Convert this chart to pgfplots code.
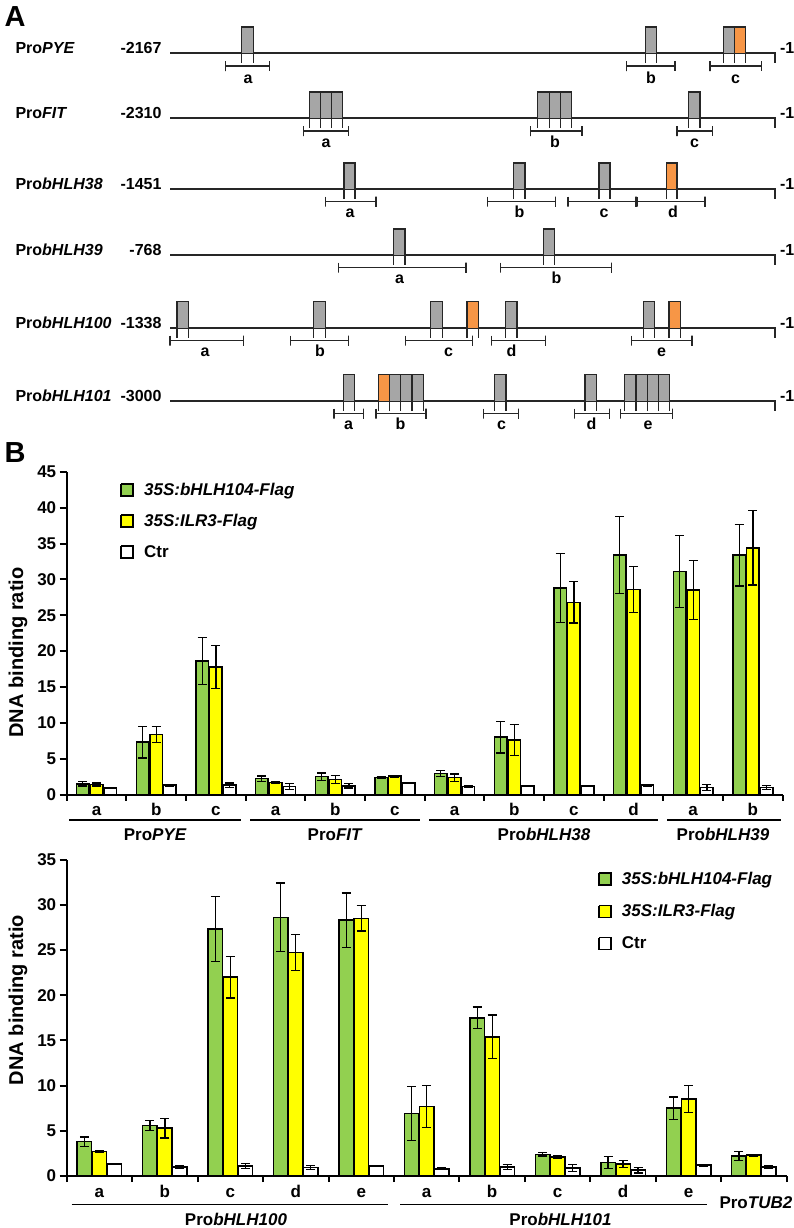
\documentclass[border=0pt]{standalone}
\usepackage{fontspec}
\setmainfont{Liberation Sans}
\usepackage{pgfplots}
\usepackage{pgfplotstable}
\pgfplotsset{compat=1.18}
\definecolor{bgreen}{RGB}{146,208,80}
\definecolor{byellow}{RGB}{255,255,0}
\definecolor{borange}{RGB}{247,150,70}
\definecolor{bgray}{RGB}{166,166,166}

\pgfplotstableread{
x g ge y ye w we
0 1.5 0.3 1.4 0.2 0.9 0.1
1 7.3 2.2 8.4 1.1 1.3 0.1
2 18.6 3.3 17.8 3.0 1.3 0.3
3 2.2 0.4 1.7 0.1 1.1 0.4
4 2.5 0.5 2.1 0.6 1.2 0.3
5 2.4 0.15 2.55 0.1 1.6 0.1
6 2.9 0.4 2.35 0.5 1.1 0.15
7 8.0 2.2 7.6 2.2 1.2 0.1
8 28.8 4.8 26.8 2.9 1.2 0.1
9 33.4 5.4 28.6 3.2 1.3 0.1
10 31.1 5.0 28.5 4.1 1.0 0.4
11 33.4 4.3 34.4 5.2 1.0 0.3
}\topdata

\pgfplotstableread{
x g ge y ye w we
0 3.8 0.5 2.7 0.1 1.35 0.05
1 5.6 0.55 5.3 1.1 1.0 0.1
2 27.3 3.6 22.0 2.3 1.1 0.3
3 28.6 3.8 24.7 2.0 0.95 0.2
4 28.3 3.0 28.5 1.4 1.1 0.05
5 6.9 3.0 7.7 2.3 0.8 0.1
6 17.5 1.2 15.4 2.4 1.0 0.3
7 2.4 0.2 2.1 0.1 0.9 0.4
8 1.5 0.65 1.35 0.4 0.65 0.3
9 7.5 1.25 8.5 1.5 1.2 0.1
10 2.2 0.5 2.3 0.1 1.0 0.2
}\botdata

% box: x1 x2 ytop yline ybottom colour
\newcommand{\bx}[6]{%
 \addplot[draw=none, fill=#6] coordinates {(#1,#3) (#2,#3) (#2,#4) (#1,#4)};
 \addplot[black!85, line width=1.1pt] coordinates {(#1,#5) (#1,#3) (#2,#3) (#2,#5)};
}
% bracket: x1 x2 y yup ydown
\newcommand{\br}[5]{%
 \addplot[black!85, line width=1.1pt] coordinates {(#1,#4) (#1,#5) (#1,#3) (#2,#3) (#2,#4) (#2,#5)};
}
\newcommand{\lab}[3]{\node[anchor=base, font=\bfseries\fontsize{16}{19}\selectfont] at (axis cs:#1,#2) {#3};}
\newcommand{\fs}{\bfseries\fontsize{17}{20}\selectfont}

\pgfplotsset{barax/.style={
 scale only axis, ybar, enlargelimits=false, clip=false,
 axis x line*=bottom, axis y line*=left,
 axis line style={-, line width=2pt},
 tick align=outside, major tick length=7pt, minor tick length=6pt,
 tick style={black, line width=2pt},
 major x tick style={draw=none},
 ymin=0,
 ticklabel style={font=\fs},
 /pgf/number format/assume math mode=true,
 xticklabel style={anchor=base, yshift=-14pt},
 error bars/error bar style={line width=1.3pt, black},
 error bars/error mark options={rotate=90, mark size=4.5pt, line width=1.3pt, black},
}}

\begin{document}
\begin{tikzpicture}
\useasboundingbox (0,0) rectangle (793pt,-1228pt);
% ---------- overlay axis in pixel coordinates ----------
\begin{axis}[at={(0pt,0pt)}, anchor=north west, scale only axis,
 width=793pt, height=1228pt, xmin=0, xmax=793, ymin=0, ymax=1228,
 y dir=reverse, hide axis, clip=false]
% panel letters
\node[anchor=base west, font=\bfseries\fontsize{29}{32}\selectfont] at (axis cs:1,26.5) {A};
\node[anchor=base west, font=\bfseries\fontsize{29}{32}\selectfont] at (axis cs:1,462) {B};
% row lines
\addplot[black!85, line width=1.2pt] coordinates {(170,53) (775,53) (775,63)};
\addplot[black!85, line width=1.2pt] coordinates {(170,118) (775,118) (775,128)};
\addplot[black!85, line width=1.2pt] coordinates {(170,189) (775,189) (775,199)};
\addplot[black!85, line width=1.2pt] coordinates {(170,255) (775,255) (775,265)};
\addplot[black!85, line width=1.2pt] coordinates {(170,328) (775,328) (775,338)};
\addplot[black!85, line width=1.2pt] coordinates {(170,401) (775,401) (775,411)};
% row labels
\node[anchor=base west, font=\bfseries\fontsize{16}{19}\selectfont] at (axis cs:12,53) {Pro\textit{PYE}};
\node[anchor=base west, font=\bfseries\fontsize{16}{19}\selectfont] at (axis cs:12,118) {Pro\textit{FIT}};
\node[anchor=base west, font=\bfseries\fontsize{16}{19}\selectfont] at (axis cs:12,189) {Pro\textit{bHLH38}};
\node[anchor=base west, font=\bfseries\fontsize{16}{19}\selectfont] at (axis cs:12,255) {Pro\textit{bHLH39}};
\node[anchor=base west, font=\bfseries\fontsize{16}{19}\selectfont] at (axis cs:12,328) {Pro\textit{bHLH100}};
\node[anchor=base west, font=\bfseries\fontsize{16}{19}\selectfont] at (axis cs:12,401) {Pro\textit{bHLH101}};
\node[anchor=base east, font=\bfseries\fontsize{16}{19}\selectfont] at (axis cs:165,53) {-2167};
\node[anchor=base east, font=\bfseries\fontsize{16}{19}\selectfont] at (axis cs:165,118) {-2310};
\node[anchor=base east, font=\bfseries\fontsize{16}{19}\selectfont] at (axis cs:165,189) {-1451};
\node[anchor=base east, font=\bfseries\fontsize{16}{19}\selectfont] at (axis cs:165,255) {-768};
\node[anchor=base east, font=\bfseries\fontsize{16}{19}\selectfont] at (axis cs:165,328) {-1338};
\node[anchor=base east, font=\bfseries\fontsize{16}{19}\selectfont] at (axis cs:165,401) {-3000};
\node[anchor=base west, font=\bfseries\fontsize{16}{19}\selectfont] at (axis cs:776.5,53) {-1};
\node[anchor=base west, font=\bfseries\fontsize{16}{19}\selectfont] at (axis cs:776.5,118) {-1};
\node[anchor=base west, font=\bfseries\fontsize{16}{19}\selectfont] at (axis cs:776.5,189) {-1};
\node[anchor=base west, font=\bfseries\fontsize{16}{19}\selectfont] at (axis cs:776.5,255) {-1};
\node[anchor=base west, font=\bfseries\fontsize{16}{19}\selectfont] at (axis cs:776.5,328) {-1};
\node[anchor=base west, font=\bfseries\fontsize{16}{19}\selectfont] at (axis cs:776.5,401) {-1};
% row 1 PYE
\bx{241.7}{253.3}{27}{53}{63}{bgray}
\bx{645.7}{656.3}{27}{53}{63}{bgray}
\bx{723.7}{734.3}{27}{53}{63}{bgray}
\bx{734.3}{745.7}{27}{53}{63}{borange}
\br{225.3}{269.3}{66}{61}{71} \lab{248}{83}{a}
\br{626.7}{675}{66}{61}{71} \lab{651}{83}{b}
\br{710}{761.7}{66}{61}{71} \lab{735.5}{83}{c}
% row 2 FIT
\bx{309.3}{320.7}{92}{118}{128}{bgray}
\bx{320.7}{331.7}{92}{118}{128}{bgray}
\bx{331.7}{342.7}{92}{118}{128}{bgray}
\bx{537.7}{549.3}{92}{118}{128}{bgray}
\bx{549.3}{560.3}{92}{118}{128}{bgray}
\bx{560.3}{571.7}{92}{118}{128}{bgray}
\bx{688.3}{700}{92}{118}{128}{bgray}
\br{303.3}{348.3}{131}{126}{136} \lab{326}{147}{a}
\br{530.7}{582}{131}{126}{136} \lab{555}{147}{b}
\br{677}{712.3}{131}{126}{136} \lab{694.5}{147}{c}
% row 3 bHLH38
\bx{344}{355}{163}{189}{199}{bgray}
\bx{513.7}{525}{163}{189}{199}{bgray}
\bx{599}{610}{163}{189}{199}{bgray}
\bx{666.3}{677}{163}{189}{199}{borange}
\br{325.7}{376}{201.5}{196.5}{206.5} \lab{350}{217.5}{a}
\br{487.3}{555.3}{201.5}{196.5}{206.5} \lab{519.5}{217.5}{b}
\br{568}{636}{201.5}{196.5}{206.5} \lab{604}{217.5}{c}
\br{637.7}{705}{201.5}{196.5}{206.5} \lab{673}{217.5}{d}
% row 4 bHLH39
\bx{393.3}{405}{229}{255}{265}{bgray}
\bx{543.3}{554.3}{229}{255}{265}{bgray}
\br{338.3}{466}{267.5}{262.5}{272.5} \lab{399.5}{283.5}{a}
\br{500.7}{611.7}{267.5}{262.5}{272.5} \lab{556.5}{283.5}{b}
% row 5 bHLH100
\bx{177}{188.7}{301.5}{328}{338}{bgray}
\bx{313.7}{325.3}{301.5}{328}{338}{bgray}
\bx{430.7}{442.3}{301.5}{328}{338}{bgray}
\bx{467}{478.3}{301.5}{328}{338}{borange}
\bx{505.7}{517}{301.5}{328}{338}{bgray}
\bx{643.3}{654.3}{301.5}{328}{338}{bgray}
\bx{669}{680.3}{301.5}{328}{338}{borange}
\br{170}{243.3}{340.5}{335.5}{345.5} \lab{205}{356}{a}
\br{290.7}{348.3}{340.5}{335.5}{345.5} \lab{320}{356}{b}
\br{405.7}{472.3}{340.5}{335.5}{345.5} \lab{448.5}{356}{c}
\br{491.7}{545.7}{340.5}{335.5}{345.5} \lab{511.5}{356}{d}
\br{631.7}{692}{340.5}{335.5}{345.5} \lab{661.5}{356}{e}
% row 6 bHLH101
\bx{343.3}{354.3}{374.5}{401}{411}{bgray}
\bx{378.3}{389.3}{374.5}{401}{411}{borange}
\bx{389.3}{400.7}{374.5}{401}{411}{bgray}
\bx{400.7}{412}{374.5}{401}{411}{bgray}
\bx{412}{423.3}{374.5}{401}{411}{bgray}
\bx{494.3}{506}{374.5}{401}{411}{bgray}
\bx{585}{596.7}{374.5}{401}{411}{bgray}
\bx{624.3}{636}{374.5}{401}{411}{bgray}
\bx{636}{647.3}{374.5}{401}{411}{bgray}
\bx{647.3}{658.3}{374.5}{401}{411}{bgray}
\bx{658.3}{669.3}{374.5}{401}{411}{bgray}
\br{334}{363.3}{413.5}{408.5}{418.5} \lab{348.5}{429.5}{a}
\br{376}{426}{413.5}{408.5}{418.5} \lab{400.5}{429.5}{b}
\br{483.3}{518.3}{413.5}{408.5}{418.5} \lab{501.5}{429.5}{c}
\br{574.3}{609.3}{413.5}{408.5}{418.5} \lab{591.5}{429.5}{d}
\br{620.7}{672.3}{413.5}{408.5}{418.5} \lab{648}{429.5}{e}
% ---------- panel B decorations ----------
% y labels
\node[rotate=90, font=\bfseries\fontsize{20}{24}\selectfont] at (axis cs:18,652.5) {DNA binding ratio};
\node[rotate=90, font=\bfseries\fontsize{20}{24}\selectfont] at (axis cs:18,1000) {DNA binding ratio};
% top group underlines and names
\addplot[black, line width=1.5pt] coordinates {(69,820) (241,820)};
\addplot[black, line width=1.5pt] coordinates {(250,820) (420,820)};
\addplot[black, line width=1.5pt] coordinates {(429,820) (658,820)};
\addplot[black, line width=1.5pt] coordinates {(667,820) (781,820)};
\node[anchor=base, font=\fs] at (axis cs:155.2,840.7) {Pro\textit{PYE}};
\node[anchor=base, font=\fs] at (axis cs:335.2,840.7) {Pro\textit{FIT}};
\node[anchor=base, font=\fs] at (axis cs:544,840.7) {Pro\textit{bHLH38}};
\node[anchor=base, font=\fs] at (axis cs:723,840.7) {Pro\textit{bHLH39}};
% bottom group underlines and names
\addplot[black, line width=1.5pt] coordinates {(71.7,1204.3) (388.3,1204.3)};
\addplot[black, line width=1.5pt] coordinates {(400,1204.3) (706.7,1204.3)};
\node[anchor=base, font=\fs] at (axis cs:236,1225) {Pro\textit{bHLH100}};
\node[anchor=base, font=\fs] at (axis cs:560.5,1225) {Pro\textit{bHLH101}};
\node[anchor=base west, font=\fs] at (axis cs:716,1208.3) {Pro\textit{TUB2}};
% top legend
\addplot[draw=black, line width=1.3pt, fill=bgreen] coordinates {(121,484) (133,484) (133,496) (121,496) (121,484)};
\addplot[draw=black, line width=1.3pt, fill=byellow] coordinates {(121,515) (133,515) (133,527) (121,527) (121,515)};
\addplot[draw=black, line width=1.3pt, fill=white] coordinates {(121,546) (133,546) (133,558) (121,558) (121,546)};
\node[anchor=base west, font=\fs\itshape, inner sep=0pt] at (axis cs:144,495.5) {35S:bHLH104-Flag};
\node[anchor=base west, font=\fs\itshape, inner sep=0pt] at (axis cs:144,526.5) {35S:ILR3-Flag};
\node[anchor=base west, font=\fs, inner sep=0pt] at (axis cs:144,557.5) {Ctr};
% bottom legend
\addplot[draw=black, line width=1.3pt, fill=bgreen] coordinates {(599,873) (611,873) (611,885) (599,885) (599,873)};
\addplot[draw=black, line width=1.3pt, fill=byellow] coordinates {(599,905.5) (611,905.5) (611,917.5) (599,917.5) (599,905.5)};
\addplot[draw=black, line width=1.3pt, fill=white] coordinates {(599,937.5) (611,937.5) (611,949.5) (599,949.5) (599,937.5)};
\node[anchor=base west, font=\fs\itshape, inner sep=0pt] at (axis cs:621.7,884.3) {35S:bHLH104-Flag};
\node[anchor=base west, font=\fs\itshape, inner sep=0pt] at (axis cs:621.7,916.5) {35S:ILR3-Flag};
\node[anchor=base west, font=\fs, inner sep=0pt] at (axis cs:621.7,948.5) {Ctr};
\end{axis}

% ---------- top bar chart ----------
\begin{axis}[barax, at={(66.7pt,-794.5pt)}, anchor=south west,
 width=716pt, height=322.65pt, xmin=-0.5, xmax=11.5, ymax=45,
 ytick={0,5,...,45},
 xtick={0,...,11}, xticklabels={a,b,c,a,b,c,a,b,c,d,a,b},
 minor xtick={-0.5,0.5,...,11.5}]
\addplot[fill=bgreen, draw=black, line width=1.5pt, bar width=12.5pt, bar shift=-13.7pt,
 error bars/.cd, y dir=both, y explicit] table[x=x, y=g, y error=ge]{\topdata};
\addplot[fill=byellow, draw=black, line width=1.5pt, bar width=12.5pt, bar shift=0pt,
 error bars/.cd, y dir=both, y explicit] table[x=x, y=y, y error=ye]{\topdata};
\addplot[fill=white, draw=black, line width=1.5pt, bar width=12.5pt, bar shift=13.7pt,
 error bars/.cd, y dir=both, y explicit] table[x=x, y=w, y error=we]{\topdata};
\end{axis}

% ---------- bottom bar chart ----------
\begin{axis}[barax, at={(66.7pt,-1176pt)}, anchor=south west,
 width=720pt, height=316.4pt, xmin=-0.5, xmax=10.5, ymax=35,
 ytick={0,5,...,35},
 xtick={0,...,9}, xticklabels={a,b,c,d,e,a,b,c,d,e},
 minor xtick={-0.5,0.5,...,10.5}]
\addplot[fill=bgreen, draw=black, line width=1.5pt, bar width=14.5pt, bar shift=-15pt,
 error bars/.cd, y dir=both, y explicit] table[x=x, y=g, y error=ge]{\botdata};
\addplot[fill=byellow, draw=black, line width=1.5pt, bar width=14.5pt, bar shift=0pt,
 error bars/.cd, y dir=both, y explicit] table[x=x, y=y, y error=ye]{\botdata};
\addplot[fill=white, draw=black, line width=1.5pt, bar width=14.5pt, bar shift=15pt,
 error bars/.cd, y dir=both, y explicit] table[x=x, y=w, y error=we]{\botdata};
\end{axis}
\end{tikzpicture}
\end{document}
